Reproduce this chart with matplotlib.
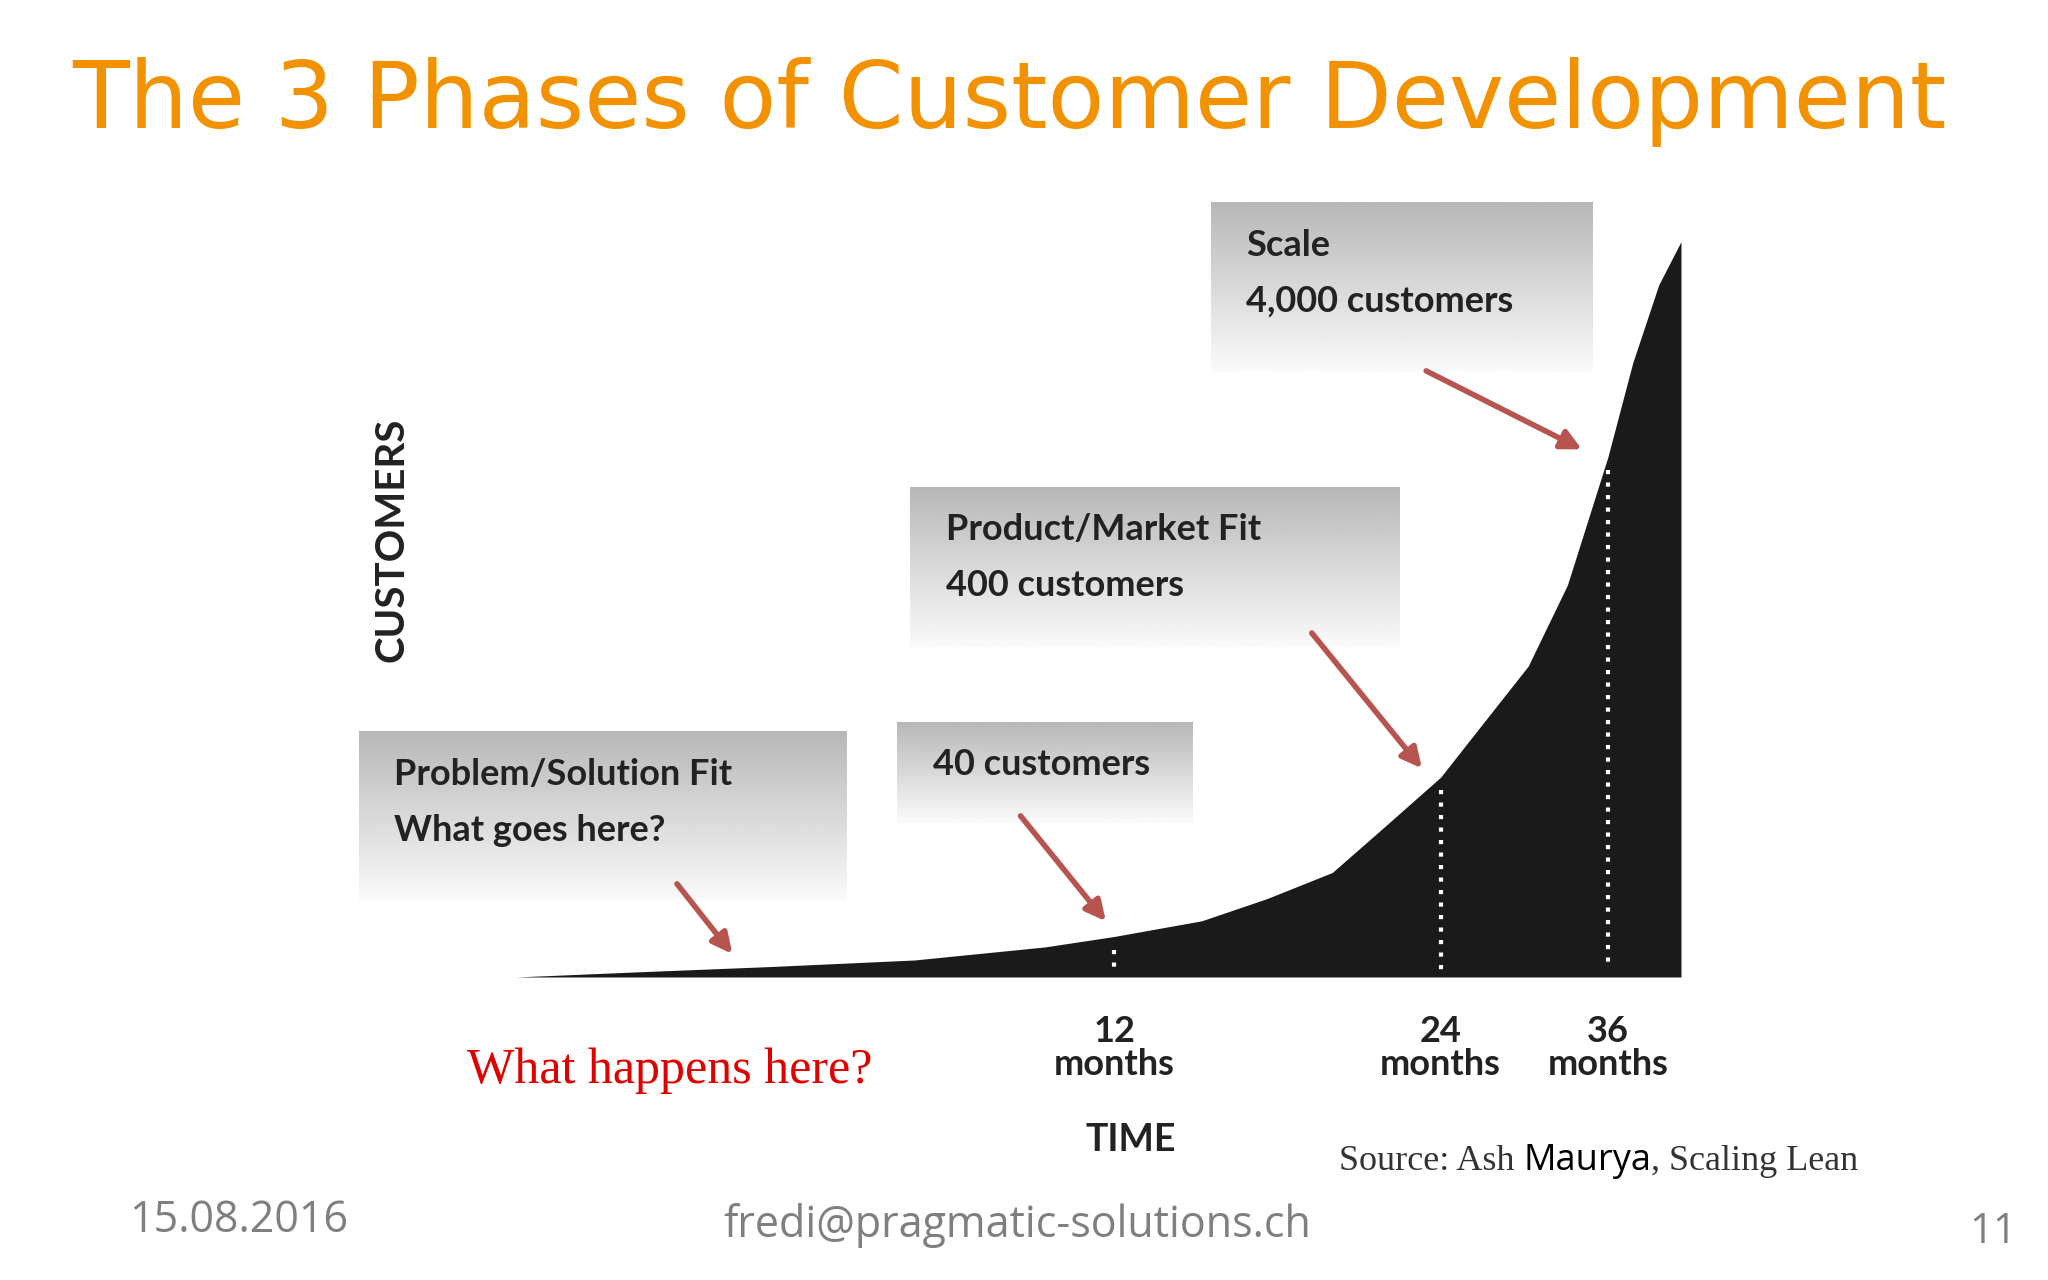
import matplotlib
matplotlib.use("Agg")
import matplotlib.pyplot as plt
import numpy as np

# Curve (x: time position, y: customers height), in reference pixel units
curve_x = [395, 490, 590, 700, 800, 853, 920, 970, 1020, 1060, 1103, 1140, 1170, 1200, 1231, 1250, 1270, 1287]
curve_h = [0, 4, 8, 13, 23, 31, 43, 60, 80, 115, 153, 200, 238, 300, 398, 470, 530, 563]
tick_x = [853, 1103, 1231]
tick_labels = ["12\nmonths", "24\nmonths", "36\nmonths"]
box_texts = ["Problem/Solution Fit\nWhat goes here?", "40 customers",
             "Product/Market Fit\n400 customers", "Scale\n4,000 customers"]

W, H = 1568, 980
base = 748
fig = plt.figure(figsize=(20.48, 12.8), dpi=100)
ax = fig.add_axes([0, 0, 1, 1])
ax.set_xlim(0, W); ax.set_ylim(H, 0); ax.axis("off")

cy = [base - h for h in curve_h]
ax.fill_between(curve_x, cy, base, color="#1a1a1a", lw=0, zorder=2)

for tx in tick_x:
    top = np.interp(tx, curve_x, cy) + 10
    ax.plot([tx, tx], [top, base - 5], color="white", lw=3, ls=(0, (1, 2)), zorder=3)

for tx, lab in zip(tick_x, tick_labels):
    ax.text(tx, 802, lab, ha="center", va="center", fontsize=26, color="#222",
            family="Lato", fontweight="bold", linespacing=1.0)

ax.text(300, 413, "CUSTOMERS", rotation=90, ha="center", va="center", fontsize=29,
        family="Lato", fontweight="bold", color="#222")
ax.text(866, 873, "TIME", ha="center", va="center", fontsize=27, family="Lato",
        fontweight="bold", color="#222")

boxes = [(275, 560, 648, 690), (687, 553, 913, 630), (697, 373, 1072, 495), (927, 155, 1219, 285)]
grad = np.linspace(0.72, 0.98, 100).reshape(-1, 1)
for (x0, y0, x1, y1), t in zip(boxes, box_texts):
    ax.imshow(np.repeat(grad, 2, axis=1), cmap="gray", vmin=0, vmax=1, aspect="auto",
              extent=(x0, x1, y1, y0), zorder=1)
    ax.text(x0 + 27, y0 + 20, t, ha="left", va="top", fontsize=26, family="Lato",
            fontweight="bold", color="#222", linespacing=1.85, zorder=4)

arrows = [((517, 675), (562, 732)), ((780, 623), (848, 707)),
          ((1003, 483), (1090, 590)), ((1090, 283), (1213, 345))]
for s, e in arrows:
    ax.annotate("", xy=e, xytext=s, zorder=5,
                arrowprops=dict(arrowstyle="-|>,head_length=1.2,head_width=0.6",
                                color="#B85450", lw=4))

ax.text(773, 78, "The 3 Phases of Customer Development", ha="center", va="center",
        fontsize=67, color="#F39200", family="DejaVu Sans")
ax.text(513, 820, "What happens here?", ha="center", va="center", fontsize=36,
        color="#E00000", family="Liberation Serif")
t1 = ax.text(1025, 889, "Source: Ash ", ha="left", va="center", fontsize=26,
             family="Liberation Serif", color="#333")
t2 = ax.annotate("Maurya", xycoords=t1, xy=(1, 0.5), va="center", ha="left",
                 fontsize=26, family="Open Sans", color="black")
ax.annotate(", Scaling Lean", xycoords=t2, xy=(1, 0.5), va="center", ha="left",
            fontsize=26, family="Liberation Serif", color="#333")
ax.text(183, 935, "15.08.2016", ha="center", va="center", fontsize=31, family="Open Sans", color="#7f7f7f")
ax.text(779, 938, "fredi@pragmatic-solutions.ch", ha="center", va="center", fontsize=31,
        family="Open Sans", color="#7f7f7f")
ax.text(1526, 943, "11", ha="center", va="center", fontsize=30, family="Open Sans", color="#7f7f7f")

fig.savefig("out.png", dpi=100, facecolor="white")
